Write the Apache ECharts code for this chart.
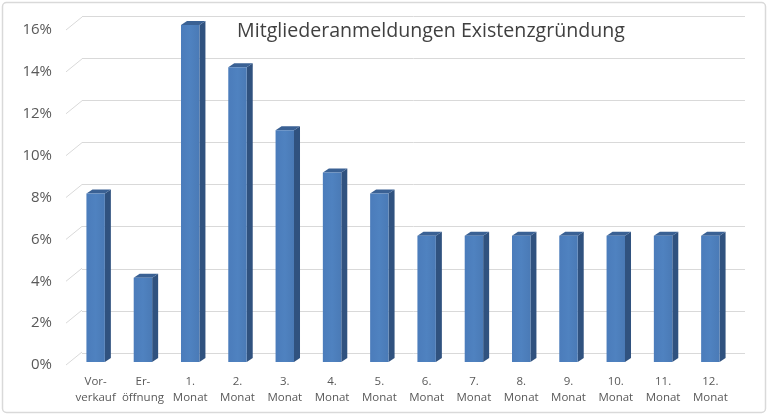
<!DOCTYPE html>
<html><head><meta charset="utf-8">
<script src="https://cdn.jsdelivr.net/npm/echarts@6/dist/echarts.min.js"></script>
<style>html,body{margin:0;padding:0;background:#fff}#c{width:768px;height:416px}</style>
</head><body><div id="c"></div>
<script>
const categories = ['Vor-\nverkauf','Er-\nöffnung','1.\nMonat','2.\nMonat','3.\nMonat','4.\nMonat','5.\nMonat','6.\nMonat','7.\nMonat','8.\nMonat','9.\nMonat','10.\nMonat','11.\nMonat','12.\nMonat'];
const values = [8,4,16,14,11,9,8,6,6,6,6,6,6,6];
const yTicks = [0,2,4,6,8,10,12,14,16];
const titleText = 'Mitgliederanmeldungen Existenzgründung';

const chart = echarts.init(document.getElementById('c'));
const font = 'Open Sans';
const DX = 6, DY = 4;
chart.setOption({
  animation: false,
  title: { text: titleText, left: 426, textAlign: 'center', top: 16,
    textStyle: { fontFamily: font, fontSize: 19.6, fontWeight: 'normal', color: '#404040' } },
  graphic: [{ type: 'rect', shape: { x: 2.5, y: 2.5, width: 763, height: 410, r: 4 },
    style: { fill: 'none', stroke: '#d9d9d9', lineWidth: 1.5 }, z: -10 }],
  grid: [
    { left: 82, right: 23, top: 16, bottom: 63 },
    { left: 66, right: 38, top: 30, bottom: 51 },
    { left: 72, right: 34, top: 25, bottom: 54 }
  ],
  xAxis: [
    { gridIndex: 0, type: 'value', min: 0, max: 1, show: false },
    { gridIndex: 1, type: 'value', min: 0, max: 1, show: false },
    { gridIndex: 2, type: 'category', data: categories,
      axisLine: { show: false }, axisTick: { show: false },
      axisLabel: { interval: 0, margin: 12, fontFamily: font, fontSize: 11.5, lineHeight: 16, color: '#595959' } }
  ],
  yAxis: [
    { gridIndex: 0, type: 'value', min: 0, max: 16, interval: 2,
      axisLine: { show: false }, axisTick: { show: false }, axisLabel: { show: false },
      splitLine: { lineStyle: { color: '#d9d9d9', width: 1 } } },
    { gridIndex: 1, type: 'value', min: 0, max: 16, interval: 2,
      axisLine: { show: false }, axisTick: { show: false }, splitLine: { show: false },
      axisLabel: { margin: 14, formatter: '{value}%', fontFamily: font, fontSize: 15, color: '#595959' } },
    { gridIndex: 2, type: 'value', min: 0, max: 16, show: false }
  ],
  series: [
    { type: 'custom', xAxisIndex: 1, yAxisIndex: 1, data: yTicks, silent: true,
      renderItem: function (params, api) {
        const p = api.coord([0, api.value(0)]);
        return { type: 'line', shape: { x1: p[0], y1: p[1], x2: p[0] + 16, y2: p[1] - 13 },
          style: { stroke: '#d9d9d9', lineWidth: 1 } };
      } },
    { type: 'custom', xAxisIndex: 2, yAxisIndex: 2, data: values.map((v, i) => [i, v]),
      renderItem: function (params, api) {
        const i = api.value(0), v = api.value(1);
        const top = api.coord([i, v]);
        const base = api.coord([i, 0]);
        const w = api.size([1, 0])[0] * 0.39;
        const l = top[0] - w / 2, r = top[0] + w / 2, yt = top[1], yb = base[1];
        return { type: 'group', children: [
          { type: 'polygon', shape: { points: [[r, yt], [r + DX, yt - DY], [r + DX, yb - DY], [r, yb]] },
            style: { fill: '#30527f' } },
          { type: 'polygon', shape: { points: [[l, yt], [l + DX, yt - DY], [r + DX, yt - DY], [r, yt]] },
            style: { fill: '#3a6194' } },
          { type: 'rect', shape: { x: l, y: yt, width: w, height: yb - yt },
            style: { fill: new echarts.graphic.LinearGradient(0, 0, 1, 0, [
              { offset: 0, color: '#4b7cbb' }, { offset: 0.5, color: '#4f82c0' }, { offset: 1, color: '#4a7ab6' }]) } }
        ] };
      } }
  ]
});
</script></body></html>
